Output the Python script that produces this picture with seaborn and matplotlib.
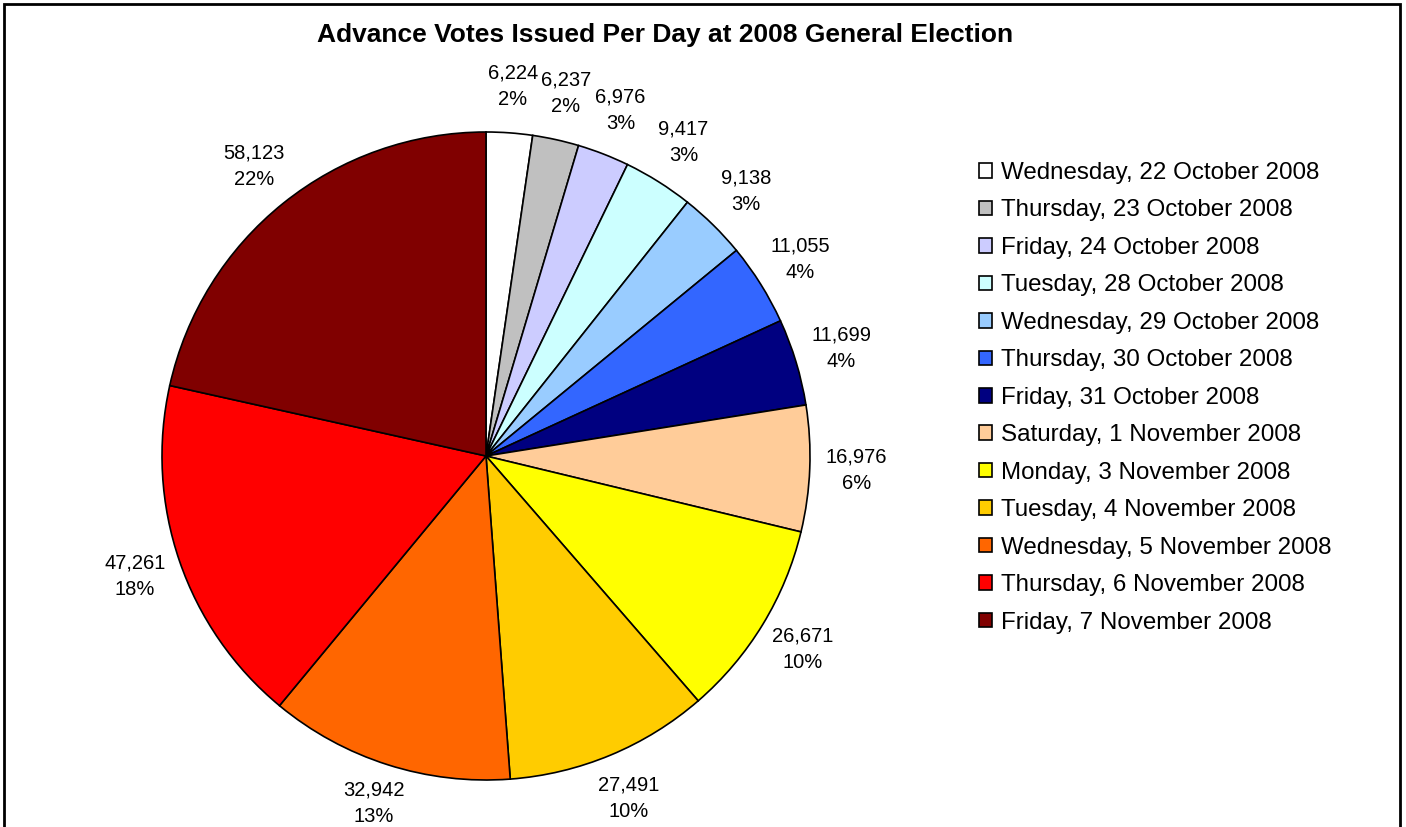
import matplotlib
matplotlib.use("Agg")
import matplotlib.pyplot as plt
from matplotlib.patches import Patch, Rectangle
import matplotlib.transforms as mtransforms
import seaborn as sns

sns.set_theme(style="white")
plt.rcParams["font.family"] = ["Liberation Sans", "DejaVu Sans"]
plt.rcParams["text.color"] = "black"

days = [
    "Wednesday, 22 October 2008",
    "Thursday, 23 October 2008",
    "Friday, 24 October 2008",
    "Tuesday, 28 October 2008",
    "Wednesday, 29 October 2008",
    "Thursday, 30 October 2008",
    "Friday, 31 October 2008",
    "Saturday, 1 November 2008",
    "Monday, 3 November 2008",
    "Tuesday, 4 November 2008",
    "Wednesday, 5 November 2008",
    "Thursday, 6 November 2008",
    "Friday, 7 November 2008",
]
votes = [6224, 6237, 6976, 9417, 9138, 11055, 11699, 16976, 26671, 27491, 32942, 47261, 58123]
pct_labels = ["2%", "2%", "3%", "3%", "3%", "4%", "4%", "6%", "10%", "10%", "13%", "18%", "22%"]
colors = ["#FFFFFF", "#C0C0C0", "#CCCCFF", "#CCFFFF", "#99CCFF", "#3366FF", "#000080",
          "#FFCC99", "#FFFF00", "#FFCC00", "#FF6600", "#FF0000", "#800000"]

W, H = 1406, 827
fig = plt.figure(figsize=(W / 100, H / 100), dpi=100)

# pie axes: centre (486, 456) px from top-left, radius 324 px
cx, cy, R = 486, 456, 324
ax = fig.add_axes([(cx - R) / W, (H - cy - R) / H, 2 * R / W, 2 * R / H])

labels = [f"{v:,}\n{p}" for v, p in zip(votes, pct_labels)]
wedges, texts = ax.pie(
    votes, colors=colors, startangle=90, counterclock=False, radius=1.0,
    labels=labels, labeldistance=1.145,
    wedgeprops=dict(edgecolor="black", linewidth=1.2),
    textprops=dict(fontsize=14.5, color="black", linespacing=1.5),
)
for t in texts:
    t.set_horizontalalignment("center")
    t.set_verticalalignment("center")
ax.set_xlim(-1, 1)
ax.set_ylim(-1, 1)
ax.set_aspect("equal")
ax.axis("off")

# keep data labels inside the lower figure edge
renderer = fig.canvas.get_renderer()
for t in texts:
    bb = t.get_window_extent(renderer)
    if bb.y0 < 1:
        shift = mtransforms.ScaledTranslation(0, (1 - bb.y0) / fig.dpi, fig.dpi_scale_trans)
        t.set_transform(t.get_transform() + shift)

fig.text(665 / W, 1 - 35 / H, "Advance Votes Issued Per Day at 2008 General Election",
         ha="center", va="center", fontsize=19, fontweight="bold", color="black")

handles = [Patch(facecolor=c, edgecolor="black", linewidth=1.2) for c in colors]
fig.legend(handles, days, loc="upper left", bbox_to_anchor=(979 / W, 1 - 162 / H),
           frameon=False, fontsize=17.4, handlelength=0.55, handleheight=0.55,
           handletextpad=0.35, labelspacing=0.64, borderpad=0, borderaxespad=0,
           labelcolor="black")

# outer chart frame
fig.patches.append(Rectangle((4 / W, -0.05), (1400 - 4) / W, 1 - 4 / H + 0.05,
                             transform=fig.transFigure, fill=False,
                             edgecolor="black", linewidth=2))

fig.savefig("out.png", dpi=100, facecolor="white")
